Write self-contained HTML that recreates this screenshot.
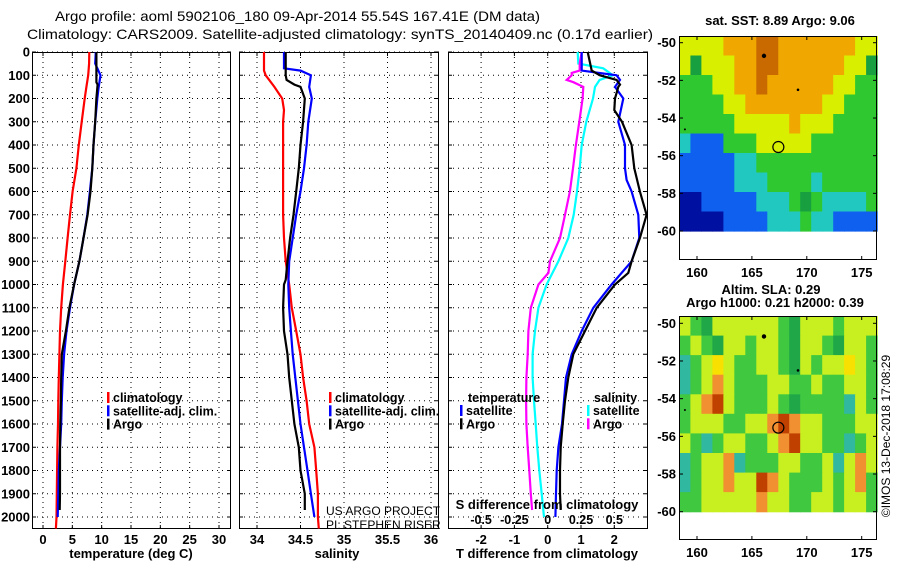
<!DOCTYPE html>
<html><head><meta charset="utf-8"><style>
html,body{margin:0;padding:0;background:#fff;}
svg{display:block;font-family:"Liberation Sans",sans-serif;}
</style></head><body>
<svg id="chart" width="900" height="580" viewBox="0 0 900 580" xmlns="http://www.w3.org/2000/svg"></svg>
<script>
// ---------- data ----------
const tDepth = [0,50,100,150,200,300,400,500,600,700,800,900,1000,1100,1200,1300,1400,1500,1600,1700,1800,1900,2000,2050];
const tClim  = [7.9,7.85,7.7,7.4,7.1,6.6,6.1,5.7,5.05,4.6,4.2,3.8,3.4,3.1,2.9,2.8,2.7,2.6,2.55,2.45,2.4,2.35,2.3,2.2];
const tSatDepth = [0,50,100,150,200,300,400,500,600,700,800,900,1000,1100,1200,1300,1400,1500,1600,1700,1800,1900,2000];
const tSat   = [9.0,8.9,9.8,9.5,9.26,8.9,8.6,8.4,8.0,7.55,6.9,6.2,5.3,4.6,4.0,3.6,3.35,3.2,3.1,2.9,2.7,2.6,2.5];
const tArgoDepth = [0,100,130,140,200,300,400,500,600,700,800,900,1000,1100,1200,1300,1400,1500,1600,1700,1800,1900,1970];
const tArgo  = [9.1,9.1,9.1,9.3,9.1,8.9,8.6,8.4,8.1,7.6,6.9,6.2,5.3,4.5,3.9,3.2,3.1,3.05,2.95,2.9,2.9,2.9,2.85];

const sClimDepth = [0,80,100,150,200,250,300,400,500,600,700,800,900,1000,1100,1200,1300,1400,1500,1600,1700,1800,1900,2000,2050];
const sClim = [34.08,34.08,34.1,34.2,34.29,34.31,34.3,34.3,34.3,34.3,34.3,34.31,34.33,34.37,34.4,34.45,34.5,34.53,34.57,34.6,34.66,34.68,34.7,34.7,34.71];
const sSatDepth = [0,70,80,100,150,200,300,400,500,600,700,800,900,1000,1100,1200,1300,1400,1500,1600,1700,1800,1900,2000];
const sSat = [34.31,34.31,34.5,34.62,34.6,34.63,34.59,34.57,34.54,34.5,34.45,34.41,34.37,34.36,34.37,34.39,34.41,34.44,34.47,34.5,34.54,34.58,34.62,34.66];
const sArgoDepth = [0,100,120,140,150,200,300,400,500,600,700,800,900,980,1000,1100,1200,1300,1400,1500,1600,1700,1800,1900,1970];
const sArgo = [34.33,34.33,34.34,34.43,34.5,34.55,34.53,34.5,34.48,34.45,34.42,34.38,34.35,34.33,34.31,34.3,34.31,34.35,34.37,34.4,34.43,34.48,34.5,34.55,34.55];

const dTArgoDepth = [0,80,100,120,140,150,200,250,300,400,500,600,700,800,900,950,1000,1100,1200,1300,1400,1500,1600,1700,1800,1900,1970];
const dTArgo = [1.2,1.32,1.57,2.07,2.17,2.12,2.02,2.0,2.23,2.52,2.6,2.77,2.97,2.77,2.52,2.42,2.02,1.47,1.12,0.77,0.62,0.52,0.45,0.39,0.37,0.37,0.39];
const dTSatDepth = [0,80,100,120,150,200,300,400,500,550,600,700,800,900,1000,1100,1200,1300,1400,1500,1600,1700,1800,1900,2000];
const dTSat = [1.02,1.02,2.07,2.17,2.02,2.27,2.12,2.32,2.32,2.37,2.52,2.72,2.75,2.52,1.92,1.37,1.02,0.72,0.55,0.49,0.43,0.32,0.27,0.25,0.23];
const dSSatDepth = [0,50,70,100,120,150,200,300,400,500,600,700,800,900,1000,1100,1200,1300,1400,1500,1600,1700,1800,1900,2000];
const dSSat = [0.225,0.23,0.417,0.49,0.39,0.355,0.34,0.29,0.255,0.24,0.22,0.195,0.155,0.08,-0.008,-0.07,-0.095,-0.113,-0.113,-0.103,-0.09,-0.078,-0.063,-0.045,-0.028];
const dSArgoDepth = [0,50,80,90,100,120,130,150,200,300,400,500,600,700,800,900,950,1000,1100,1200,1300,1400,1500,1600,1700,1800,1900,1970];
const dSArgo = [0.255,0.24,0.24,0.18,0.18,0.143,0.193,0.267,0.262,0.237,0.212,0.19,0.167,0.13,0.092,0.017,0.005,-0.07,-0.127,-0.145,-0.15,-0.16,-0.162,-0.16,-0.15,-0.138,-0.127,-0.117];

const depthTicks = [0,100,200,300,400,500,600,700,800,900,1000,1100,1200,1300,1400,1500,1600,1700,1800,1900,2000];
const tempTicks = [0,5,10,15,20,25,30];
const salTicks = [34,34.5,35,35.5,36];
const salTickLabels = ["34","34.5","35","35.5","36"];
const dTTicks = [-2,-1,0,1,2];
const dSTicks = [-0.5,-0.25,0,0.25,0.5];
const dSTickLabels = ["-0.5","-0.25","0","0.25","0.5"];
const lonTicks = [160,165,170,175];
const latTicks = [-50,-52,-54,-56,-58,-60];

// map grids: rows from lat -49.6 to -60, cols lon 158.4 to 176.4
const sstRows = [
"yyyyoooOOoooooooyy",
"ygyyyooOOooooooyyg",
"GGGyyooOooooooyyGG",
"GGGGyyoooooooyyGGG",
"GGGGGyyyyyoyyyGGGG",
"cbbbGGGyyyyyGGGGGG",
"bbbbbccGGGGGGGGGGG",
"bbbbbcccGGGGcGGGGG",
"BBbbbbbcccGgGccccG",
"BBBBbbbbcccGccbbbb"];
const slaRows = [
"yGgyyyyyyGgyyyGyyy",
"GyGgyyGyyGgyyGgyyG",
"cGyYyGGyyGgyGyyYyG",
"cGyoyGGGyyGGyGGyyG",
"GyoOyGGGyGgGGGGcyG",
"GyyyGGyyoOoyyGGGyy",
"yGcGyyGGyoOyyGGcGy",
"cGyyocGGGyyGGycyoy",
"cGyyoyyOoyGGGyGyoG",
"GGyyyyyoyyGGyyGyyG"];
const argoLon = 167.41, argoLat = -55.54;

// ---------- drawing ----------
const NS = "http://www.w3.org/2000/svg";
const svg = document.getElementById('chart');
function el(tag, attrs, parent){
  const e = document.createElementNS(NS, tag);
  for (const k in attrs) e.setAttribute(k, attrs[k]);
  (parent||svg).appendChild(e);
  return e;
}
function txt(s, x, y, size, anchor, weight, parent){
  const t = el('text', {x:x, y:y, 'font-size':size, 'text-anchor':anchor||'start', 'font-weight':weight||'bold', fill:'#000'}, parent);
  t.textContent = s;
  return t;
}
const yD = d => 52 + d*0.2325;
const PY0 = 52, PY1 = 529;

function linScale(v0, p0, v1, p1){ return v => p0 + (v - v0)*(p1 - p0)/(v1 - v0); }

function panel(name, x0, x1, xs, xticks, xlabels, grid){
  const g = el('g', {});
  
  
  depthTicks.forEach(d => {
    const l = el('line', {x1:x0, x2:x1, y1:yD(d), y2:yD(d), stroke:'#000', 'stroke-width':1, 'stroke-dasharray':'1,4'}, g);
    
    
    el('line', {x1:x0, x2:x0+4, y1:yD(d), y2:yD(d), stroke:'#000'}, g);
    el('line', {x1:x1-4, x2:x1, y1:yD(d), y2:yD(d), stroke:'#000'}, g);
  });
  grid.forEach(v => {
    const l = el('line', {x1:xs(v), x2:xs(v), y1:PY0, y2:PY1, stroke:'#000', 'stroke-width':1, 'stroke-dasharray':'1,4'}, g);
    
    
  });
  xticks.forEach((v,i) => {
    el('line', {x1:xs(v), x2:xs(v), y1:PY1, y2:PY1-4, stroke:'#000'}, g);
    el('line', {x1:xs(v), x2:xs(v), y1:PY0, y2:PY0+4, stroke:'#000'}, g);
    if (xlabels) {
      const t = txt(xlabels[i], xs(v), 544, 13, 'middle', 'bold', g);
      
      
    }
  });
  const r = el('rect', {x:x0+0.5, y:PY0+0.5, width:x1-x0-1, height:PY1-PY0-1, fill:'none', stroke:'#000', 'stroke-width':1}, g);
  
  
  return g;
}
function series(g, name, depths, vals, xs, color){
  const pts = depths.map((d,i) => xs(vals[i]).toFixed(1)+','+yD(d).toFixed(1)).join(' ');
  const p = el('polyline', {points:pts, fill:'none', stroke:color, 'stroke-width':2.2}, g);
  
  
}

// titles
const t1 = txt('Argo profile: aoml 5902106_180 09-Apr-2014 55.54S 167.41E (DM data)', 55, 21, 14, 'start', 'normal');
t1.setAttribute('textLength', 485); t1.setAttribute('lengthAdjust', 'spacingAndGlyphs');


const t2 = txt('Climatology: CARS2009. Satellite-adjusted climatology: synTS_20140409.nc (0.17d earlier)', 27, 39, 14, 'start', 'normal');
t2.setAttribute('textLength', 626); t2.setAttribute('lengthAdjust', 'spacingAndGlyphs');



// depth labels
depthTicks.forEach(d => {
  const t = txt(String(d), 30, yD(d)+4.5, 13, 'end', 'bold');
  
  
});

// temperature panel
const xT = linScale(0, 43, 30, 219);
const gT = panel('temperature-panel', 32, 231, xT, tempTicks, tempTicks.map(String), tempTicks);
series(gT, 'temp-climatology-line', tDepth, tClim, xT, '#ff0000');
series(gT, 'temp-satellite-line', tSatDepth, tSat, xT, '#0000ff');
series(gT, 'temp-argo-line', tArgoDepth, tArgo, xT, '#000000');
let a = txt('temperature (deg C)', 131, 558, 13, 'middle');  

// salinity panel
const xS = linScale(34, 257, 36, 431);
const gS = panel('salinity-panel', 239, 439, xS, salTicks, salTickLabels, salTicks);
series(gS, 'sal-climatology-line', sClimDepth, sClim, xS, '#ff0000');
series(gS, 'sal-satellite-line', sSatDepth, sSat, xS, '#0000ff');
series(gS, 'sal-argo-line', sArgoDepth, sArgo, xS, '#000000');
a = txt('salinity', 337, 558, 13, 'middle');  
a = txt('US ARGO PROJECT', 326, 515, 12, 'start', 'normal');  
a = txt('PI: STEPHEN RISER', 326, 529, 12, 'start', 'normal');  

// difference panel
const xDT = linScale(0, 547.7, 1, 581);
const xDS = linScale(0, 547.7, 0.25, 581);
const gD = panel('difference-panel', 448, 648, xDT, dTTicks, dTTicks.map(String), dTTicks);
series(gD, 'dS-satellite-line', dSSatDepth, dSSat, xDS, '#00ffff');
series(gD, 'dS-argo-line', dSArgoDepth, dSArgo, xDS, '#ff00ff');
series(gD, 'dT-satellite-line', dTSatDepth, dTSat, xDT, '#0000ff');
series(gD, 'dT-argo-line', dTArgoDepth, dTArgo, xDT, '#000000');
a = txt('T difference from climatology', 547, 558, 13, 'middle');  
a = txt('S difference from climatology', 547, 509, 13, 'middle');  
dSTicks.forEach((v,i) => {
  const t = txt(dSTickLabels[i], xDS(v), 524, 12.5, 'middle', 'bold');
  
  
});

// legends
function legend(x, y, items, name){
  const g = el('g', {});
  
  
  items.forEach((it,i) => {
    el('rect', {x:x, y:y + i*13.3 - 10, width:2.5, height:11, fill:it[1]}, g);
    const t = txt(it[0], x+6, y + i*13.3, 12.5, 'start', 'bold', g);
    
    
  });
}
legend(107, 402, [['climatology','#ff0000'],['satellite-adj. clim.','#0000ff'],['Argo','#000']], 'temp-legend');
legend(329, 402, [['climatology','#ff0000'],['satellite-adj. clim.','#0000ff'],['Argo','#000']], 'sal-legend');
a = txt('temperature', 468, 402, 12.5, 'start');  
legend(460, 415, [['satellite','#0000ff'],['Argo','#000']], 'dT-legend');
a = txt('salinity', 594, 402, 12.5, 'start');  
legend(587, 415, [['satellite','#00ffff'],['Argo','#ff00ff']], 'dS-legend');

// maps
const colors = {O:'#c86a00', o:'#f0a800', Y:'#f8e000', y:'#d8f000', G:'#30c830', g:'#18a040', c:'#20c8c0', b:'#1060f0', B:'#0010a0'};
const slaColors = {O:'#c04000', o:'#f09030', Y:'#f8e000', y:'#c8f020', G:'#40c840', g:'#20a848', c:'#30b8a0', b:'#1060f0', B:'#0010a0'};
function map(name, fx0, fx1, fy0, fy1, latY, rows, cmap, title){
  const g = el('g', {});
  
  
  const xL = linScale(160, 697, 175, 861.7);
  const yL = latY;
  const lon0 = 158.4, lon1 = 176.4, lat1 = -60;
  const lat0 = -50 + (yL(-50) - fy0) / (yL(-50) - yL(-49));
  const nr = rows.length, nc = rows[0].length;
  const dLat = (lat0 - lat1)/nr, dLon = (lon1 - lon0)/nc;
  rows.forEach((row, r) => {
    for (let c = 0; c < nc; c++) {
      const la = lat0 - r*dLat, lo = lon0 + c*dLon;
      const x = xL(lo), y = yL(la);
      const cell = el('rect', {x:x.toFixed(1), y:y.toFixed(1), width:(xL(lo+dLon)-x+0.6).toFixed(1), height:(yL(la-dLat)-y+0.6).toFixed(1), fill:cmap[row[c]]}, g);
      
      
    }
  });
  el('circle', {cx:xL(166.1), cy:yL(-50.7), r:2.2, fill:'#000'}, g);
  el('circle', {cx:xL(169.2), cy:yL(-52.5), r:1.3, fill:'#000'}, g);
  el('circle', {cx:xL(158.9), cy:yL(-54.6), r:1, fill:'#000'}, g);
  const m = el('circle', {cx:xL(argoLon), cy:yL(argoLat), r:5.5, fill:'none', stroke:'#000', 'stroke-width':1.2}, g);
  
  
  const fr = el('rect', {x:fx0+0.5, y:fy0+0.5, width:fx1-fx0-1, height:fy1-fy0-1, fill:'none', stroke:'#000'}, g);
  
  
  lonTicks.forEach(v => {
    el('line', {x1:xL(v), x2:xL(v), y1:fy1, y2:fy1-4, stroke:'#000'}, g);
    el('line', {x1:xL(v), x2:xL(v), y1:fy0, y2:fy0+4, stroke:'#000'}, g);
    const t = txt(String(v), xL(v), fy1+17, 13, 'middle', 'bold', g);
    
    
  });
  latTicks.forEach(v => {
    el('line', {x1:fx0, x2:fx0+4, y1:yL(v), y2:yL(v), stroke:'#000'}, g);
    el('line', {x1:fx1, x2:fx1-4, y1:yL(v), y2:yL(v), stroke:'#000'}, g);
    const t = txt(String(v), fx0-3, yL(v)+4.5, 13, 'end', 'bold', g);
    
    
  });
  title.forEach((s,i) => {
    const t = txt(s[0], s[1], s[2], 13, 'middle', 'bold', g);
    
    
  });
}
map('sst-map', 679, 877, 36, 260, linScale(-50, 42.7, -60, 231), sstRows, colors,
    [['sat. SST: 8.89 Argo: 9.06', 780, 25]]);
map('sla-map', 679, 877, 316, 540, linScale(-50, 323.3, -60, 511.7), slaRows, slaColors,
    [['Altim. SLA: 0.29', 771, 294], ['Argo h1000: 0.21 h2000: 0.39', 775, 307]]);

const cp = txt('\u00A9IMOS 13-Dec-2018 17:08:29', 0, 0, 12, 'middle', 'normal');
cp.setAttribute('transform', 'translate(890,436) rotate(-90)');


</script>
</body></html>
